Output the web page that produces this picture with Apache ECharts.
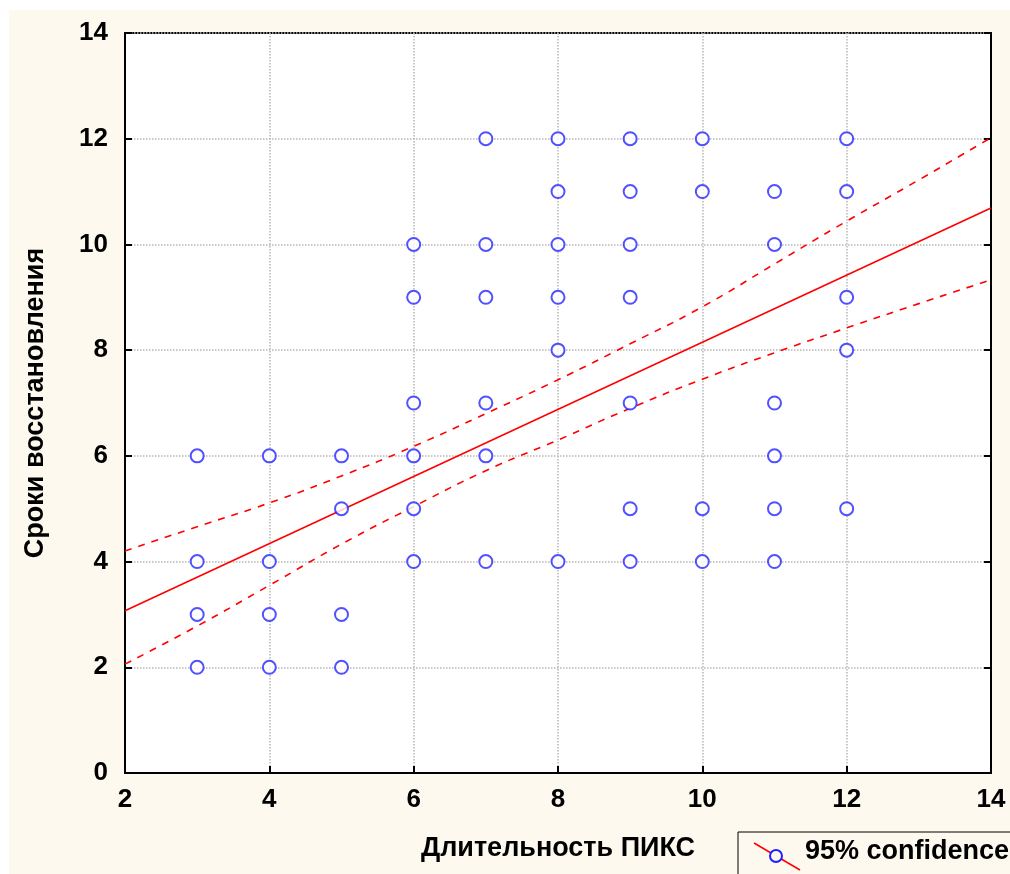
<!DOCTYPE html>
<html lang="ru">
<head>
  <meta charset="UTF-8">
  <title>Сроки восстановления</title>
  <style>
    html, body { margin: 0; padding: 0; background: #fff; }
    #chart { position: absolute; left: 9px; top: 10px; width: 1001px; height: 864px; background: #fdf9ef; }
  </style>
</head>
<body>
  <div id="chart"></div>
  <script src="https://cdn.jsdelivr.net/npm/echarts@6/dist/echarts.min.js"></script>
  <script>
    // наблюдения
    var obsX = [3, 3, 3, 3, 4, 4, 4, 4, 5, 5, 5, 5,
      6, 6, 6, 6, 6, 6, 7, 7, 7, 7, 7, 7,
      8, 8, 8, 8, 8, 8, 9, 9, 9, 9, 9, 9, 9,
      10, 10, 10, 10, 11, 11, 11, 11, 11, 11,
      12, 12, 12, 12, 12];
    var obsY = [6, 4, 3, 2, 6, 4, 3, 2, 6, 5, 3, 2,
      10, 9, 7, 6, 5, 4, 12, 10, 9, 7, 6, 4,
      12, 11, 10, 9, 8, 4, 12, 11, 10, 9, 7, 5, 4,
      12, 11, 5, 4, 11, 10, 7, 6, 5, 4,
      12, 11, 9, 8, 5];

    // линия регрессии и 95% доверительные границы
    var fitX = [2, 14];
    var fitY = [3.07, 10.69];
    var bandX = [2, 3, 4, 5, 6, 7, 8, 9, 10, 11, 12, 13, 14];
    var upperY = [4.20, 4.66, 5.11, 5.62, 6.18, 6.80, 7.44, 8.12, 8.82, 9.63, 10.44, 11.22, 12.02];
    var lowerY = [2.06, 2.78, 3.55, 4.33, 5.04, 5.72, 6.30, 6.90, 7.45, 7.95, 8.42, 8.88, 9.33];

    function zip(a, b) {
      return a.map(function (v, i) { return [v, b[i]]; });
    }

    var chart = echarts.init(document.getElementById('chart'));
    var font = 'Arial, "Liberation Sans", sans-serif';
    var dotted = { type: 'dotted', color: '#b8b8b8', width: 1.5 };

    var option = {
      animation: false,
      textStyle: { fontFamily: font },
      grid: {
        left: 116, right: 19, top: 23, bottom: 101,
        show: true, backgroundColor: '#fff', borderColor: '#000', borderWidth: 2
      },
      legend: {
        left: 729, top: 822,
        data: [{ name: '95% confidence', icon: 'none' }],
        itemWidth: 54, itemHeight: 20, itemGap: 5,
        padding: [6, 60, 20, 8],
        borderColor: '#000', borderWidth: 1,
        textStyle: { fontSize: 27, fontWeight: 'bold', color: '#000', fontFamily: font }
      },
      xAxis: {
        type: 'value', min: 2, max: 14, interval: 2,
        name: 'Длительность ПИКС', nameLocation: 'middle', nameGap: 62,
        nameTextStyle: { fontSize: 27, fontWeight: 'bold', color: '#000' },
        axisLine: { lineStyle: { color: '#000', width: 2 } },
        axisTick: { inside: true, length: 7, lineStyle: { color: '#000', width: 2 } },
        axisLabel: { fontSize: 26, fontWeight: 'bold', color: '#000', margin: 14 },
        splitLine: { show: true, lineStyle: dotted }
      },
      yAxis: [{
        type: 'value', min: 0, max: 14, interval: 2,
        name: 'Сроки восстановления', nameLocation: 'middle', nameGap: 76,
        nameTextStyle: { fontSize: 27, fontWeight: 'bold', color: '#000' },
        axisLine: { lineStyle: { color: '#000', width: 2 } },
        axisTick: { inside: true, length: 7, lineStyle: { color: '#000', width: 2 } },
        axisLabel: { fontSize: 26, fontWeight: 'bold', color: '#000', margin: 17 },
        splitLine: { show: true, lineStyle: dotted }
      }, {
        type: 'value', min: 0, max: 14, interval: 2, position: 'right',
        axisLine: { show: true, lineStyle: { color: '#000', width: 2 } },
        axisTick: { show: true, inside: true, length: 7, lineStyle: { color: '#000', width: 2 } },
        axisLabel: { show: false },
        splitLine: { show: false }
      }],
      graphic: [
        { type: 'line', shape: { x1: 745, y1: 833, x2: 791, y2: 860 }, style: { stroke: '#f00', lineWidth: 1.5 }, z: 100 },
        { type: 'circle', shape: { cx: 767, cy: 846, r: 6 }, style: { fill: '#fdf9ef', stroke: '#2020ff', lineWidth: 2 }, z: 101 }
      ],
      series: [
        {
          name: 'points', type: 'scatter', data: zip(obsX, obsY),
          symbol: 'emptyCircle', symbolSize: 13,
          itemStyle: { color: '#2626ff', borderColor: '#2626ff', borderWidth: 2 }, z: 5
        },
        {
          name: '95% confidence', type: 'line', data: zip(fitX, fitY),
          showSymbol: false, lineStyle: { color: '#f00', width: 1.6 }, itemStyle: { color: '#f00' }, z: 4
        },
        {
          name: 'upper', type: 'line', data: zip(bandX, upperY), smooth: true,
          showSymbol: false, lineStyle: { color: '#f00', width: 1.6, type: [7, 7] }, z: 4
        },
        {
          name: 'lower', type: 'line', data: zip(bandX, lowerY), smooth: true,
          showSymbol: false, lineStyle: { color: '#f00', width: 1.6, type: [7, 7] }, z: 4
        }
      ]
    };

    chart.setOption(option);
  </script>
</body>
</html>
